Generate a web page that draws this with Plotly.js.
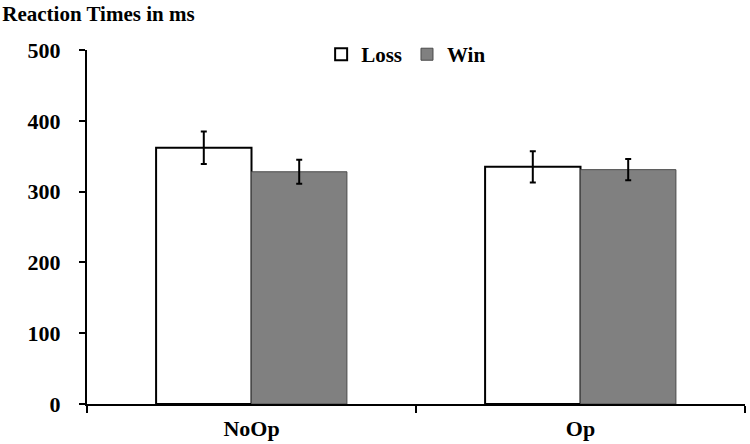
<!DOCTYPE html>
<html>
<head>
<meta charset="utf-8">
<script src="https://cdn.plot.ly/plotly-3.0.1.min.js"></script>
<style>
  body { margin: 0; background: #fff; }
  #chart { width: 750px; height: 444px; }
</style>
</head>
<body>
<div id="chart"></div>
<script>
// Chart values
const conditions = ['NoOp', 'Op'];
const lossMeans = [362, 335];
const lossErrors = [23, 22];
const winMeans = [328, 331];
const winErrors = [17, 15];
const yTicks = [0, 100, 200, 300, 400, 500];

const serif = '"Liberation Serif", "DejaVu Serif", serif';

var traceLoss = {
    type: 'bar',
    name: 'Loss',
    x: conditions,
    y: lossMeans,
    error_y: { type: 'data', array: lossErrors, visible: true, color: '#000', thickness: 2, width: 3 },
    marker: { color: '#ffffff', line: { color: '#000000', width: 2 } },
};

var traceWin = {
    type: 'bar',
    name: 'Win',
    x: conditions,
    y: winMeans,
    error_y: { type: 'data', array: winErrors, visible: true, color: '#000', thickness: 2, width: 3 },
    marker: { color: '#808080', line: { color: '#4a4a4a', width: 1 } },
};

var layout = {
    width: 750,
    height: 444,
    margin: { l: 87, r: 5, t: 50, b: 40 },
    paper_bgcolor: '#fff',
    plot_bgcolor: '#fff',
    barmode: 'group',
    bargap: 0.42,
    bargroupgap: 0,
    showlegend: true,
    title: {
        text: '<b>Reaction Times in ms</b>',
        font: { family: serif, size: 21, color: '#000' },
        xref: 'container', x: 0.003, xanchor: 'left',
        yref: 'container', y: 0.985, yanchor: 'top',
    },
    legend: {
        orientation: 'h',
        x: 0.485, xanchor: 'center',
        y: 1.045, yanchor: 'top',
        font: { family: serif, size: 21, color: '#000', weight: 'bold' },
        itemwidth: 30,
        tracegroupgap: 0,
        traceorder: 'normal',
    },
    xaxis: {
        type: 'category',
        showline: true, linecolor: '#000', linewidth: 2,
        ticks: 'outside', tickson: 'boundaries', ticklen: 7, tickwidth: 2, tickcolor: '#000',
        tickfont: { family: serif, size: 22, color: '#000', weight: 'bold' },
        showgrid: false, zeroline: false,
        ticklabelstandoff: 4,
    },
    yaxis: {
        range: [0, 500],
        tickvals: yTicks,
        showline: true, linecolor: '#000', linewidth: 2,
        ticks: 'outside', ticklen: 6, tickwidth: 2, tickcolor: '#000',
        tickfont: { family: serif, size: 22, color: '#000', weight: 'bold' },
        showgrid: false, zeroline: false,
        ticklabelstandoff: 14,
    },
};

Plotly.newPlot('chart', [traceLoss, traceWin], layout, { displayModeBar: false, staticPlot: true });
</script>
</body>
</html>
